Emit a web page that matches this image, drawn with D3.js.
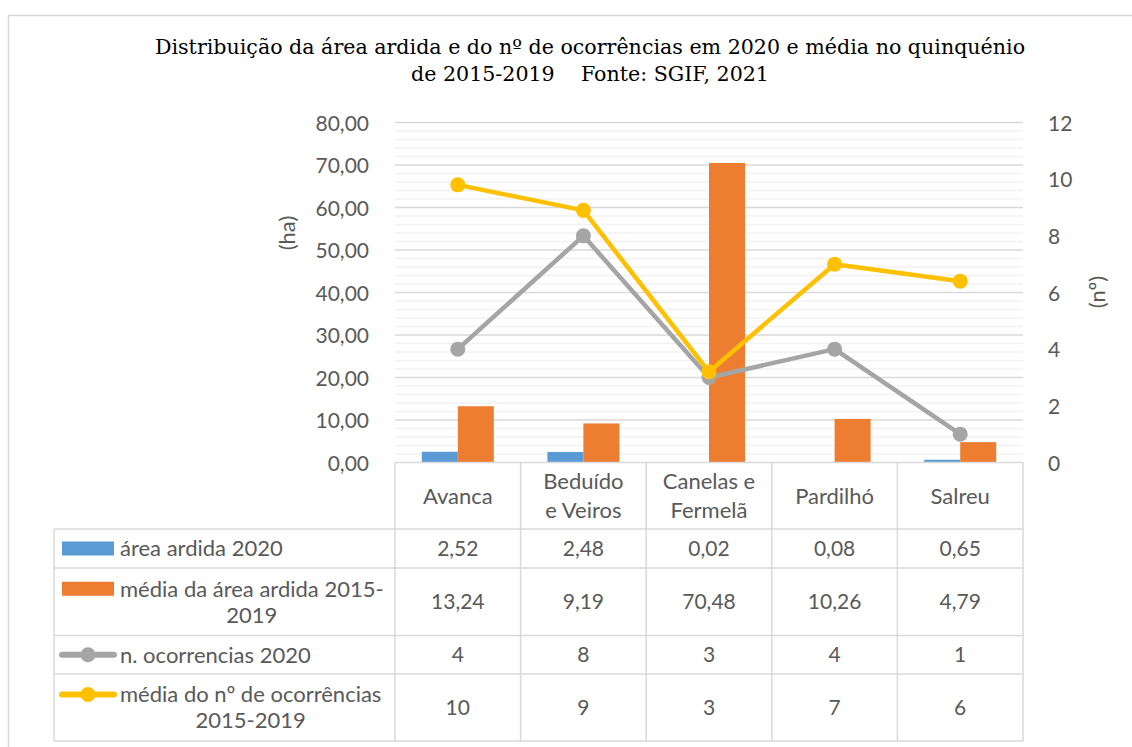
<!DOCTYPE html>
<html>
<head>
<meta charset="utf-8">
<script src="https://cdn.jsdelivr.net/npm/d3@7"></script>
<style>
  body { margin: 0; background: #fff; }
  text { font-family: Lato, "Open Sans", sans-serif; fill: #595959; }
</style>
</head>
<body>
<div id="chart"></div>
<script>
// data
const categories = ["Avanca", "Beduído e Veiros", "Canelas e Fermelã", "Pardilhó", "Salreu"];
const categoryLines = [["Avanca"], ["Beduído", "e Veiros"], ["Canelas e", "Fermelã"], ["Pardilhó"], ["Salreu"]];
const areaArdida2020 = [2.52, 2.48, 0.02, 0.08, 0.65];
const mediaArea20152019 = [13.24, 9.19, 70.48, 10.26, 4.79];
const ocorrencias2020 = [4, 8, 3, 4, 1];
const mediaOcorrencias20152019 = [9.8, 8.9, 3.2, 7.0, 6.4];
const leftTicks = [0, 10, 20, 30, 40, 50, 60, 70, 80];
const rightTicks = [0, 2, 4, 6, 8, 10, 12];

const titleLines = ["Distribuição da área ardida e do nº de ocorrências em 2020 e média no quinquénio",
                    "de 2015-2019    Fonte: SGIF, 2021"];

const series = [
    { name: ["área ardida 2020"], values: areaArdida2020, type: "bar", color: "#5B9BD5", fmt: ".2f" },
    { name: ["média da área ardida 2015-", "2019"], values: mediaArea20152019, type: "bar", color: "#ED7D31", fmt: ".2f" },
    { name: ["n. ocorrencias 2020"], values: ocorrencias2020, type: "line", color: "#A5A5A5", fmt: ".0f" },
    { name: ["média do nº de ocorrências", "2015-2019"], values: mediaOcorrencias20152019, type: "line", color: "#FFC000", fmt: ".0f" }
];

const pt = d3.formatLocale({ decimal: ",", thousands: ".", grouping: [3], currency: ["", "€"] });

const width = 1132, height = 747;
const plot = { left: 395, right: 1023, top: 122.5, bottom: 462.5 };
const rowEdges = [462.5, 529, 568, 635.5, 674, 741];
const tableLeft = 54;

const svg = d3.select("#chart").append("svg")
    .attr("width", width)
    .attr("height", height);

// chart frame
svg.append("rect")
    .attr("x", 8.5).attr("y", 15.5)
    .attr("width", 1200).attr("height", 800)
    .attr("fill", "#fff")
    .attr("stroke", "#d9d9d9")
    .attr("stroke-width", 1.5);

// title
svg.append("g").selectAll("text")
    .data(titleLines)
    .join("text")
    .attr("x", 590)
    .attr("y", (d, i) => 54 + i * 27)
    .attr("text-anchor", "middle")
    .style("font-family", "'DejaVu Serif', serif")
    .style("font-size", "20.6px")
    .style("white-space", "pre")
    .style("fill", "#000")
    .text(d => d);

const x = d3.scaleBand().domain(categories).range([plot.left, plot.right]);
const yL = d3.scaleLinear().domain([0, 80]).range([plot.bottom, plot.top]);
const yR = d3.scaleLinear().domain([0, 12]).range([plot.bottom, plot.top]);

// gridlines
const grid = svg.append("g");
grid.selectAll(".minor")
    .data(yL.ticks(40).filter(v => v % 10 !== 0))
    .join("line")
    .attr("x1", plot.left).attr("x2", plot.right)
    .attr("y1", d => yL(d)).attr("y2", d => yL(d))
    .attr("stroke", "#f2f2f2")
    .attr("stroke-width", 1.5);
grid.selectAll(".major")
    .data(leftTicks.filter(v => v > 0))
    .join("line")
    .attr("x1", plot.left).attr("x2", plot.right)
    .attr("y1", d => yL(d)).attr("y2", d => yL(d))
    .attr("stroke", "#d9d9d9")
    .attr("stroke-width", 1.5);

// axes
const axL = svg.append("g")
    .attr("transform", `translate(${plot.left - 23},0)`)
    .call(d3.axisLeft(yL).tickValues(leftTicks).tickSize(0).tickFormat(pt.format(".2f")));
const axR = svg.append("g")
    .attr("transform", `translate(${plot.right + 22},0)`)
    .call(d3.axisRight(yR).tickValues(rightTicks).tickSize(0).tickFormat(d3.format("d")));
[axL, axR].forEach(a => {
    a.select(".domain").remove();
    a.selectAll("text")
        .style("font-family", "Lato, sans-serif")
        .style("font-size", "21px")
        .attr("fill", "#595959")
        .attr("dy", "0.36em");
});

svg.append("text")
    .attr("transform", "translate(295,233) rotate(-90)")
    .attr("text-anchor", "middle")
    .style("font-size", "22px")
    .text("(ha)");
svg.append("text")
    .attr("transform", "translate(1105,292) rotate(-90)")
    .attr("text-anchor", "middle")
    .style("font-size", "22px")
    .text("(nº)");

// bars
const barW = 36;
const bars = series.filter(s => s.type === "bar");
bars.forEach((s, k) => {
    svg.append("g").selectAll("rect")
        .data(s.values)
        .join("rect")
        .attr("x", (d, i) => x(categories[i]) + x.bandwidth() / 2 - barW + k * barW)
        .attr("y", d => yL(d))
        .attr("width", barW)
        .attr("height", d => yL(0) - yL(d))
        .attr("fill", s.color);
});

// lines
const line = d3.line()
    .x((d, i) => x(categories[i]) + x.bandwidth() / 2)
    .y(d => yR(d));
series.filter(s => s.type === "line").forEach(s => {
    const g = svg.append("g");
    g.append("path")
        .datum(s.values)
        .attr("d", line)
        .attr("fill", "none")
        .attr("stroke", s.color)
        .attr("stroke-width", 4.5)
        .attr("stroke-linejoin", "round");
    g.selectAll("circle")
        .data(s.values)
        .join("circle")
        .attr("cx", (d, i) => x(categories[i]) + x.bandwidth() / 2)
        .attr("cy", d => yR(d))
        .attr("r", 7.5)
        .attr("fill", s.color);
});

// data table
const table = svg.append("g");
const tl = { stroke: "#d9d9d9", w: 1.5 };
table.append("line")
    .attr("x1", plot.left).attr("x2", plot.right)
    .attr("y1", rowEdges[0]).attr("y2", rowEdges[0])
    .attr("stroke", tl.stroke).attr("stroke-width", tl.w);
table.selectAll(".hrow")
    .data(rowEdges.slice(1))
    .join("line")
    .attr("x1", tableLeft).attr("x2", plot.right)
    .attr("y1", d => d).attr("y2", d => d)
    .attr("stroke", tl.stroke).attr("stroke-width", tl.w);
const colEdges = categories.map(c => x(c)).concat([plot.right]);
table.selectAll(".vcol")
    .data(colEdges)
    .join("line")
    .attr("x1", d => d).attr("x2", d => d)
    .attr("y1", rowEdges[0]).attr("y2", rowEdges[5])
    .attr("stroke", tl.stroke).attr("stroke-width", tl.w);
table.append("line")
    .attr("x1", tableLeft).attr("x2", tableLeft)
    .attr("y1", rowEdges[1]).attr("y2", rowEdges[5])
    .attr("stroke", tl.stroke).attr("stroke-width", tl.w);

// header labels
categoryLines.forEach((lines, i) => {
    const cx = x(categories[i]) + x.bandwidth() / 2;
    const cy = (rowEdges[0] + rowEdges[1]) / 2;
    const lh = 29;
    lines.forEach((t, j) => {
        table.append("text")
            .attr("x", cx)
            .attr("y", cy + (j - (lines.length - 1) / 2) * lh)
            .attr("dy", "0.36em")
            .attr("text-anchor", "middle")
            .style("font-size", "22px")
            .text(t);
    });
});

// rows
series.forEach((s, r) => {
    const top = rowEdges[r + 1], bot = rowEdges[r + 2];
    const cy = (top + bot) / 2;
    const f = pt.format(s.fmt);
    s.values.forEach((v, i) => {
        table.append("text")
            .attr("x", x(categories[i]) + x.bandwidth() / 2)
            .attr("y", cy)
            .attr("dy", "0.36em")
            .attr("text-anchor", "middle")
            .style("font-size", "21px")
            .text(f(v));
    });

    // legend text
    const lh = 26;
    const firstY = s.name.length > 1 ? cy - lh / 2 : cy;
    const first = table.append("text")
        .attr("x", 120)
        .attr("y", firstY)
        .attr("dy", "0.36em")
        .style("font-size", "22px")
        .text(s.name[0]);
    if (s.name.length > 1) {
        const w = first.node().getComputedTextLength();
        table.append("text")
            .attr("x", 120 + w / 2)
            .attr("y", firstY + lh)
            .attr("dy", "0.36em")
            .attr("text-anchor", "middle")
            .style("font-size", "22px")
            .text(s.name[1]);
    }

    // legend key
    if (s.type === "bar") {
        table.append("rect")
            .attr("x", 62).attr("y", firstY - 7)
            .attr("width", 52).attr("height", 14)
            .attr("fill", s.color);
    } else {
        table.append("line")
            .attr("x1", 62).attr("x2", 114)
            .attr("y1", firstY).attr("y2", firstY)
            .attr("stroke", s.color)
            .attr("stroke-width", 6)
            .attr("stroke-linecap", "round");
        table.append("circle")
            .attr("cx", 88).attr("cy", firstY)
            .attr("r", 7.5)
            .attr("fill", s.color);
    }
});
</script>
</body>
</html>
